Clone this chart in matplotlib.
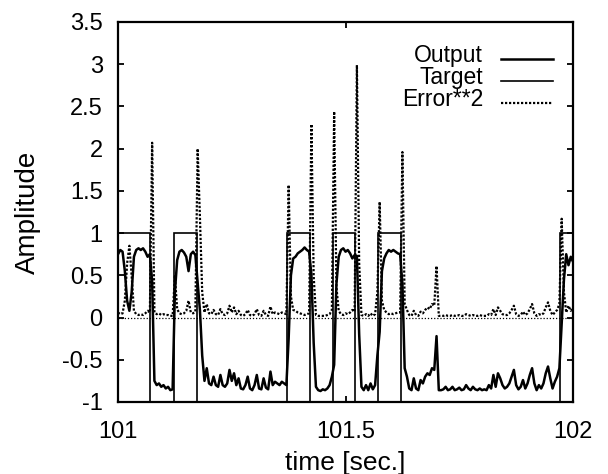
import numpy as np
import matplotlib
matplotlib.use('Agg')
import matplotlib.pyplot as plt

plt.rcParams['font.family'] = ['Liberation Sans', 'DejaVu Sans']
plt.rcParams['axes.unicode_minus'] = False

# samples every 5 ms starting at 101 s
t_start = 101.0
dt = 0.005

output = [
    0.75, 0.80, 0.78, 0.55, 0.20, 0.08, 0.30, 0.72, 0.80, 0.82,
    0.80, 0.82, 0.78, 0.72, 0.75, 0.43, -0.75, -0.80, -0.78, -0.82,
    -0.80, -0.84, -0.82, -0.86, -0.85, 0.30, 0.68, 0.78, 0.80, 0.77,
    0.72, 0.55, 0.75, 0.78, 0.74, 0.41, 0.09, -0.45, -0.75, -0.60,
    -0.78, -0.80, -0.70, -0.80, -0.82, -0.68, -0.80, -0.82, -0.78, -0.62,
    -0.75, -0.66, -0.80, -0.72, -0.84, -0.85, -0.80, -0.70, -0.84, -0.86,
    -0.80, -0.68, -0.84, -0.85, -0.72, -0.83, -0.85, -0.64, -0.80, -0.76,
    -0.78, -0.80, -0.76, -0.78, -0.80, -0.25, 0.50, 0.70, 0.72, 0.76,
    0.78, 0.80, 0.83, 0.80, 0.78, 0.51, -0.30, -0.82, -0.86, -0.87,
    -0.85, -0.86, -0.84, -0.80, -0.70, -0.56, 0.40, 0.72, 0.80, 0.82,
    0.78, 0.80, 0.76, 0.70, 0.74, 0.73, -0.20, -0.82, -0.86, -0.80,
    -0.86, -0.78, -0.85, -0.80, -0.45, -0.17, 0.55, 0.70, 0.76, 0.80,
    0.78, 0.80, 0.78, 0.76, 0.75, 0.40, -0.60, -0.70, -0.84, -0.86,
    -0.72, -0.84, -0.86, -0.74, -0.78, -0.70, -0.66, -0.68, -0.60, -0.62,
    -0.22, -0.86, -0.86, -0.85, -0.82, -0.86, -0.85, -0.82, -0.86, -0.85,
    -0.83, -0.86, -0.85, -0.80, -0.84, -0.86, -0.82, -0.85, -0.86, -0.84,
    -0.86, -0.85, -0.86, -0.80, -0.84, -0.68, -0.82, -0.66, -0.72, -0.80,
    -0.84, -0.82, -0.78, -0.70, -0.62, -0.80, -0.85, -0.82, -0.74, -0.84,
    -0.78, -0.68, -0.60, -0.78, -0.86, -0.80, -0.84, -0.78, -0.66, -0.58,
    -0.72, -0.84, -0.76, -0.70, -0.60, -0.08, 0.45, 0.75, 0.62, 0.72, 0.66,
]

error_sq = [
    0.06, 0.04, 0.05, 0.20, 0.64, 0.85, 0.49, 0.08, 0.04, 0.03,
    0.04, 0.03, 0.05, 0.08, 0.06, 2.07, 0.06, 0.04, 0.05, 0.03,
    0.04, 0.03, 0.03, 0.02, 0.02, 0.49, 0.10, 0.05, 0.04, 0.05,
    0.08, 0.20, 0.06, 0.05, 0.07, 2.00, 1.19, 0.30, 0.06, 0.16,
    0.05, 0.04, 0.09, 0.04, 0.03, 0.10, 0.04, 0.03, 0.05, 0.14,
    0.06, 0.12, 0.04, 0.08, 0.03, 0.02, 0.04, 0.09, 0.03, 0.02,
    0.04, 0.10, 0.03, 0.02, 0.08, 0.03, 0.02, 0.13, 0.04, 0.06,
    0.05, 0.04, 0.06, 0.05, 0.04, 1.57, 0.25, 0.09, 0.08, 0.06,
    0.05, 0.04, 0.03, 0.04, 0.05, 2.29, 0.49, 0.03, 0.02, 0.02,
    0.02, 0.02, 0.03, 0.04, 0.09, 2.44, 0.36, 0.08, 0.04, 0.03,
    0.05, 0.04, 0.06, 0.09, 0.07, 2.99, 0.64, 0.03, 0.02, 0.04,
    0.02, 0.05, 0.02, 0.04, 0.30, 1.37, 0.20, 0.09, 0.06, 0.04,
    0.05, 0.04, 0.05, 0.06, 0.06, 1.96, 0.16, 0.09, 0.03, 0.02,
    0.08, 0.03, 0.02, 0.07, 0.05, 0.09, 0.12, 0.10, 0.16, 0.14,
    0.61, 0.02, 0.02, 0.02, 0.03, 0.02, 0.02, 0.03, 0.02, 0.02,
    0.03, 0.02, 0.02, 0.04, 0.03, 0.02, 0.03, 0.02, 0.02, 0.03,
    0.02, 0.02, 0.02, 0.04, 0.03, 0.10, 0.03, 0.12, 0.08, 0.04,
    0.03, 0.03, 0.05, 0.09, 0.14, 0.04, 0.02, 0.03, 0.07, 0.03,
    0.05, 0.10, 0.16, 0.05, 0.02, 0.04, 0.03, 0.05, 0.12, 0.18,
    0.08, 0.03, 0.06, 0.09, 0.16, 1.17, 0.30, 0.06, 0.14, 0.08, 0.12,
]

# square-wave target: switching times and levels
target_edges = [101.0, 101.070, 101.123, 101.173, 101.371, 101.422,
                101.473, 101.521, 101.572, 101.623, 101.971, 102.0]
target_levels = [1, -1, 1, -1, 1, -1, 1, -1, 1, -1, 1]

x_ticks = [101, 101.5, 102]
x_labels = ['101', '101.5', '102']
y_ticks = [-1, -0.5, 0, 0.5, 1, 1.5, 2, 2.5, 3, 3.5]
y_labels = ['-1', '-0.5', '0', '0.5', '1', '1.5', '2', '2.5', '3', '3.5']
legend_labels = ['Output', 'Target', 'Error**2']

time = t_start + dt * np.arange(len(output))

fig = plt.figure(figsize=(6.08, 4.74), dpi=100)
ax = fig.add_axes([0.1941, 0.1519, 0.7484, 0.8017])

styles = [dict(color='k', lw=1.8, ls='-'),
          dict(color='k', lw=1.2, ls='-'),
          dict(color='k', lw=1.6, ls=(0, (1, 0.8)))]

ax.axhline(0, color='k', lw=0.9, ls=(0, (1, 1.5)))
ax.plot(time, output, **styles[0])
ax.stairs(target_levels, target_edges, baseline=None, **styles[1])
ax.plot(time, error_sq, **styles[2])

ax.set_xlim(101, 102)
ax.set_ylim(-1, 3.5)
ax.set_xticks(x_ticks)
ax.set_xticklabels(x_labels)
ax.set_yticks(y_ticks)
ax.set_yticklabels(y_labels)
ax.tick_params(direction='in', top=True, right=True, length=4.5, width=1.3,
               labelsize=17)
ax.tick_params(axis='x', pad=14)
ax.tick_params(axis='y', pad=11)
for s in ax.spines.values():
    s.set_linewidth(1.6)

ax.set_xlabel('time [sec.]', fontsize=19)
ax.set_ylabel('Amplitude', fontsize=20)
ax.xaxis.set_label_coords(0.5, -0.128)
ax.yaxis.set_label_coords(-0.17, 0.5)

# gnuplot-style key: right-aligned text followed by a line sample
key_y = [0.895, 0.836, 0.778]
for label, y, st in zip(legend_labels, key_y, styles):
    ax.text(0.802, y, label, transform=ax.transAxes, ha='right', va='baseline',
            fontsize=16.5)
    ax.plot([0.841, 0.957], [y + 0.008, y + 0.008], transform=ax.transAxes,
            **st)

fig.savefig('out.png', dpi=100)
